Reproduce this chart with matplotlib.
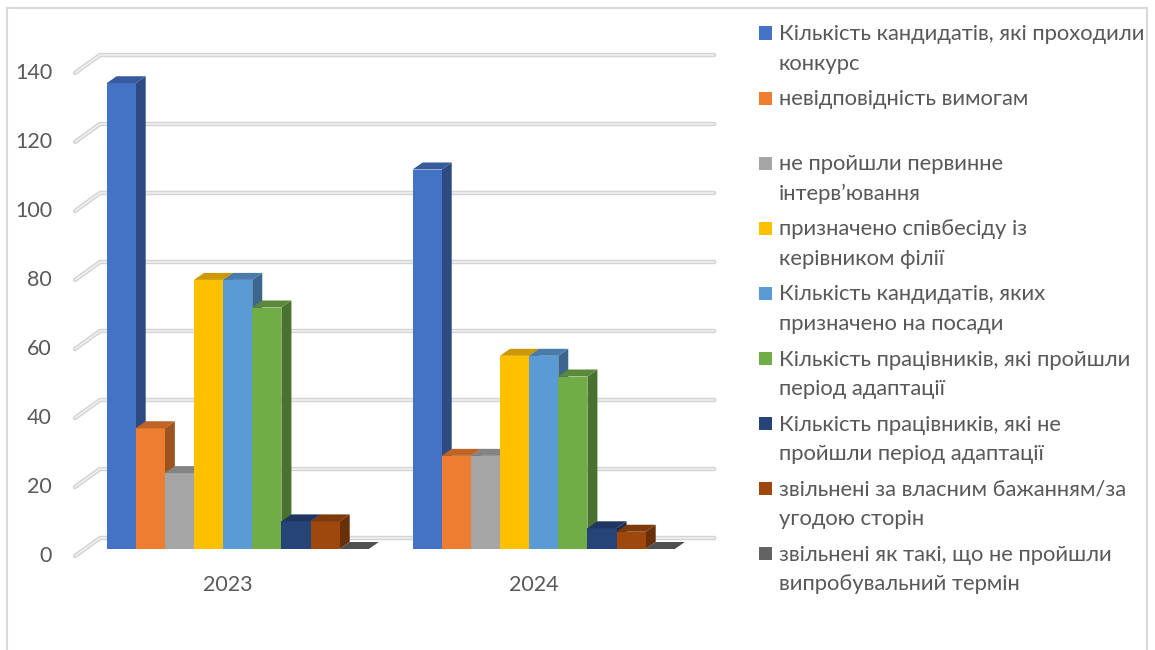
import numpy as np
import matplotlib
matplotlib.use("Agg")
import matplotlib.pyplot as plt
from matplotlib.patches import Polygon, Rectangle
from matplotlib.lines import Line2D
from matplotlib.colors import to_rgb

plt.rcParams["font.family"] = ["Lato", "DejaVu Sans"]

years = ["2023", "2024"]
series = [
    "Кількість кандидатів, які проходили\nконкурс",
    "невідповідність вимогам",
    "не пройшли первинне\nінтерв’ювання",
    "призначено співбесіду із\nкерівником філії",
    "Кількість кандидатів, яких\nпризначено на посади",
    "Кількість працівників, які пройшли\nперіод адаптації",
    "Кількість працівників, які не\nпройшли період адаптації",
    "звільнені за власним бажанням/за\nугодою сторін",
    "звільнені як такі, що не пройшли\nвипробувальний термін",
]
values_2023 = [135, 35, 22, 78, 78, 70, 8, 8, 0]
values_2024 = [110, 27, 27, 56, 56, 50, 6, 5, 0]
colors = ["#4472C4", "#ED7D31", "#A5A5A5", "#FFC000", "#5B9BD5",
          "#70AD47", "#264478", "#9E480E", "#636363"]
y_ticks = [0, 20, 40, 60, 80, 100, 120, 140]

TEXT = "#595959"
GRID = "#D4D4D4"

W, H = 1155, 650
fig = plt.figure(figsize=(W / 100, H / 100), dpi=100)

# bar plane: 1 x unit = one bar width, y in data units
ax = fig.add_axes([84.7 / W, 101 / H, 612 / W, 483 / H])
ax.set_xlim(0, 21)
ax.set_ylim(0, 140)
ax.axis("off")

px_x = 612 / 21      # pixels per x unit
px_y = 483 / 140     # pixels per y unit

# depth offsets (in data units)
back_dx, back_dy = 15.3 / px_x, 11 / px_y
front_dx, front_dy = -9.7 / px_x, -7 / px_y
bar_dx, bar_dy = 10 / px_x, 7 / px_y

# back wall gridlines and left-side diagonals
for v in y_ticks:
    xs = [front_dx, back_dx, 21.6]
    ys = [v + front_dy, v + back_dy, v + back_dy]
    ax.plot(xs, ys, color=GRID, lw=3.2, solid_capstyle="round",
            clip_on=False, zorder=1)
    ax.plot(xs, ys, color="#F4F4F4", lw=1.0, solid_capstyle="round",
            clip_on=False, zorder=1.1)
    ax.text(-1.12, v + front_dy, str(v), ha="right", va="center",
            fontsize=15.5, color=TEXT)


def shade(c, k):
    r, g, b = to_rgb(c)
    return (r * k, g * k, b * k)


group_w = 10.5
z = 2
for gi, vals in enumerate([values_2023, values_2024]):
    x0 = gi * group_w + 0.75
    for si, v in enumerate(vals):
        x = x0 + si
        c = colors[si]
        front = Rectangle((x, 0), 1, v, facecolor=c, edgecolor="none",
                          zorder=z, clip_on=False)
        side = Polygon([(x + 1, 0), (x + 1 + bar_dx, bar_dy),
                        (x + 1 + bar_dx, v + bar_dy), (x + 1, v)],
                       closed=True, facecolor=shade(c, 0.66),
                       edgecolor="none", zorder=z, clip_on=False)
        top = Polygon([(x, v), (x + 1, v), (x + 1 + bar_dx, v + bar_dy),
                       (x + bar_dx, v + bar_dy)], closed=True,
                      facecolor=shade(c, 0.8), edgecolor="none",
                      zorder=z, clip_on=False)
        ax.add_patch(side)
        ax.add_patch(front)
        ax.add_patch(top)
        z += 1
    ax.text(gi * group_w + group_w / 2 + front_dx, -(585 - 549) / px_y,
            years[gi], ha="center", va="center", fontsize=15.5, color=TEXT)

# legend drawn by hand: equal slots like the original
for i, (lab, c) in enumerate(zip(series, colors)):
    yc = 33 + i * 65.1
    fig.patches.append(Rectangle((759 / W, 1 - (yc + 6.5) / H), 13.5 / W, 13 / H,
                                 transform=fig.transFigure, facecolor=c,
                                 edgecolor="none"))
    fig.text(779 / W, 1 - (yc - 9) / H, lab, ha="left", va="top",
             fontsize=15.8, color=TEXT, linespacing=1.6)

# outer chart border
for (xa, ya), (xb, yb) in [((7, 8), (1147, 8)), ((7, 8), (7, 650)),
                           ((1147, 8), (1147, 650))]:
    fig.add_artist(Line2D([xa / W, xb / W], [1 - ya / H, 1 - yb / H],
                          transform=fig.transFigure, color="#D9D9D9", lw=1.5))

fig.savefig("out.png", dpi=100)
